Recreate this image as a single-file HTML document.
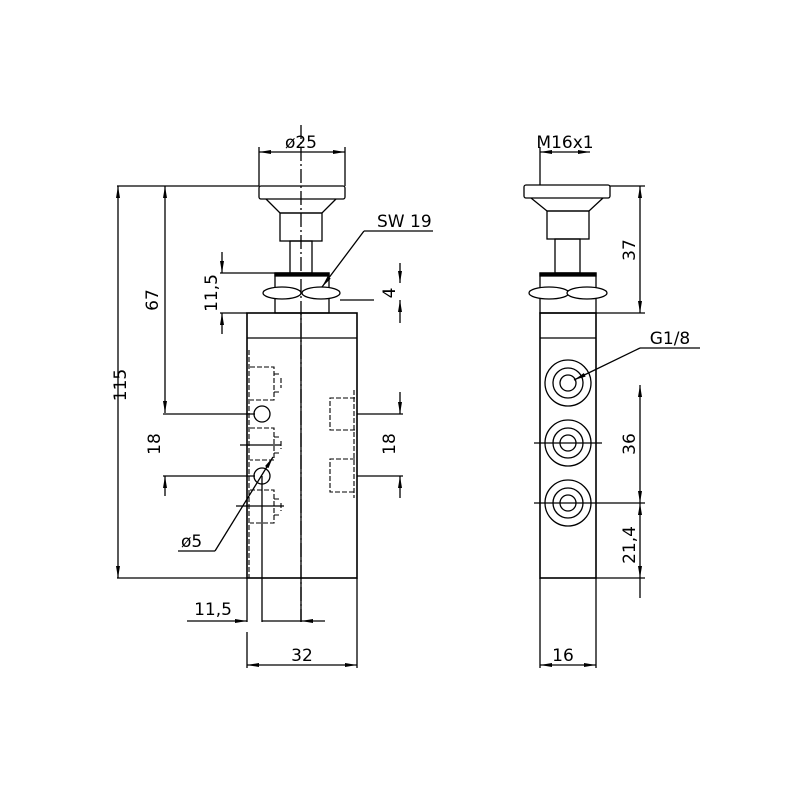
<!DOCTYPE html>
<html><head><style>body{margin:0;background:#fff}svg{display:block}text{font-family:"DejaVu Sans","Liberation Sans",sans-serif;font-size:17px;fill:#000}</style></head><body>
<svg width="800" height="800" viewBox="0 0 800 800" xmlns="http://www.w3.org/2000/svg">
<defs>
<marker id="a" viewBox="0 0 12 4" refX="12" refY="2" markerWidth="12" markerHeight="4" markerUnits="userSpaceOnUse" orient="auto-start-reverse"><path d="M0,0 L12,2 L0,4z" fill="#000"/></marker>
</defs>
<g stroke="#000" fill="none" stroke-width="1.3">
<!-- LEFT VIEW -->
<rect x="247" y="313" width="110" height="265" stroke-width="1.6"/>
<line x1="247" y1="338" x2="357" y2="338"/>
<line x1="301" y1="125" x2="301" y2="622" stroke-dasharray="14,3,2,3"/>
<line x1="301" y1="313" x2="301" y2="622"/>
<rect x="259" y="186" width="86" height="13" rx="2"/>
<path d="M266,199 L280,213 L322,213 L336,199"/>
<rect x="280" y="213" width="42" height="28"/>
<rect x="290" y="241" width="22" height="32"/>
<rect x="275" y="273" width="54" height="40"/>
<rect x="275" y="273" width="54" height="3" fill="#000"/>
<ellipse cx="282" cy="293" rx="19" ry="6" fill="#fff"/>
<ellipse cx="321" cy="293" rx="19" ry="6" fill="#fff"/>
<!-- holes -->
<circle cx="262" cy="414" r="8"/>
<circle cx="262" cy="476" r="8"/>
<line x1="262" y1="476" x2="262" y2="622"/>
<g stroke-dasharray="5,2" stroke-width="1.1">
<line x1="249" y1="350" x2="249" y2="578"/>
<path d="M250,367 H274 V400 H250"/><path d="M274,374 H281 M274,392 H281 M281,378 V388"/>
<path d="M250,428 H274 V460 H250"/><path d="M274,437 H281 M274,453 H281 M281,441 V449"/>
<path d="M250,490 H274 V523 H250"/><path d="M274,499 H281 M274,515 H281 M281,503 V511"/>
<path d="M355,398 H330 V430 H355"/><path d="M355,459 H330 V492 H355"/>
<line x1="354" y1="390" x2="354" y2="498"/>
</g>
<line x1="240" y1="445" x2="281" y2="445"/>
<line x1="236" y1="506" x2="284" y2="506"/>
<!-- dims left -->
<line x1="117" y1="186" x2="259" y2="186"/>
<line x1="117" y1="578" x2="247" y2="578"/>
<line x1="118" y1="186" x2="118" y2="578" marker-start="url(#a)" marker-end="url(#a)"/>
<line x1="165" y1="186" x2="165" y2="413" marker-start="url(#a)" marker-end="url(#a)"/>
<line x1="163" y1="414" x2="255" y2="414"/>
<line x1="163" y1="476" x2="255" y2="476"/>
<line x1="165" y1="476" x2="165" y2="496" marker-start="url(#a)"/>
<line x1="222" y1="252" x2="222" y2="273" marker-end="url(#a)"/>
<line x1="222" y1="313" x2="222" y2="334" marker-start="url(#a)"/>
<line x1="220" y1="273" x2="290" y2="273"/>
<line x1="220" y1="313" x2="247" y2="313"/>
<line x1="400" y1="263" x2="400" y2="283" marker-end="url(#a)"/>
<line x1="400" y1="300" x2="400" y2="323" marker-start="url(#a)"/>
<line x1="340" y1="300" x2="374" y2="300"/>
<line x1="364" y1="231" x2="433" y2="231"/>
<line x1="364" y1="231" x2="322" y2="287" marker-end="url(#a)"/>
<line x1="259" y1="147" x2="259" y2="186"/>
<line x1="345" y1="147" x2="345" y2="186"/>
<line x1="259" y1="152" x2="345" y2="152" marker-start="url(#a)" marker-end="url(#a)"/>
<line x1="357" y1="414" x2="403" y2="414"/>
<line x1="357" y1="476" x2="403" y2="476"/>
<line x1="400" y1="392" x2="400" y2="414" marker-end="url(#a)"/>
<line x1="400" y1="476" x2="400" y2="498" marker-start="url(#a)"/>
<line x1="178" y1="551" x2="215" y2="551"/>
<line x1="215" y1="551" x2="273" y2="457" marker-end="url(#a)"/>
<line x1="247" y1="578" x2="247" y2="622"/>
<line x1="187" y1="621" x2="247" y2="621" marker-end="url(#a)"/>
<line x1="262" y1="621" x2="301" y2="621"/>
<line x1="325" y1="621" x2="301" y2="621" marker-end="url(#a)"/>
<line x1="247" y1="632" x2="247" y2="668"/>
<line x1="357" y1="578" x2="357" y2="668"/>
<line x1="247" y1="665" x2="357" y2="665" marker-start="url(#a)" marker-end="url(#a)"/>
<!-- RIGHT VIEW -->
<rect x="540" y="313" width="56" height="265" stroke-width="1.6"/>
<line x1="540" y1="338" x2="596" y2="338"/>
<rect x="524" y="185" width="86" height="13" rx="2"/>
<path d="M531,198 L547,211 L589,211 L603,198"/>
<rect x="547" y="211" width="42" height="28"/>
<rect x="555" y="239" width="25" height="34"/>
<rect x="540" y="273" width="56" height="40"/>
<rect x="540" y="273" width="56" height="3" fill="#000"/>
<ellipse cx="549" cy="293" rx="20" ry="6" fill="#fff"/>
<ellipse cx="587" cy="293" rx="20" ry="6" fill="#fff"/>
<g>
<circle cx="568" cy="383" r="23"/><circle cx="568" cy="383" r="15"/><circle cx="568" cy="383" r="8"/>
<circle cx="568" cy="443" r="23"/><circle cx="568" cy="443" r="15"/><circle cx="568" cy="443" r="8"/>
<circle cx="568" cy="503" r="23"/><circle cx="568" cy="503" r="15"/><circle cx="568" cy="503" r="8"/>
</g>
<line x1="534" y1="443" x2="602" y2="443"/>
<line x1="534" y1="503" x2="645" y2="503"/>
<line x1="610" y1="186" x2="645" y2="186"/>
<line x1="596" y1="313" x2="645" y2="313"/>
<line x1="640" y1="186" x2="640" y2="313" marker-start="url(#a)" marker-end="url(#a)"/>
<line x1="640" y1="385" x2="640" y2="503" marker-start="url(#a)" marker-end="url(#a)"/>
<line x1="596" y1="578" x2="645" y2="578"/>
<line x1="640" y1="503" x2="640" y2="578" marker-start="url(#a)" marker-end="url(#a)"/>
<line x1="640" y1="578" x2="640" y2="598"/>
<line x1="640" y1="348" x2="700" y2="348"/>
<line x1="640" y1="348" x2="574" y2="380" marker-end="url(#a)"/>
<line x1="540" y1="147" x2="540" y2="185"/>
<line x1="540" y1="152" x2="590" y2="152" marker-start="url(#a)" marker-end="url(#a)"/>
<line x1="540" y1="578" x2="540" y2="668"/>
<line x1="596" y1="578" x2="596" y2="668"/>
<line x1="540" y1="665" x2="596" y2="665" marker-start="url(#a)" marker-end="url(#a)"/>
</g>
<text x="301" y="148" text-anchor="middle">ø25</text>
<text x="377" y="227">SW 19</text>
<text transform="translate(126,385) rotate(-90)" text-anchor="middle">115</text>
<text transform="translate(158,300) rotate(-90)" text-anchor="middle">67</text>
<text transform="translate(160,444) rotate(-90)" text-anchor="middle">18</text>
<text transform="translate(217,293) rotate(-90)" text-anchor="middle">11,5</text>
<text transform="translate(395,293) rotate(-90)" text-anchor="middle">4</text>
<text transform="translate(395,444) rotate(-90)" text-anchor="middle">18</text>
<text x="181" y="547">ø5</text>
<text x="213" y="615" text-anchor="middle">11,5</text>
<text x="302" y="661" text-anchor="middle">32</text>
<text x="565" y="148" text-anchor="middle">M16x1</text>
<text x="670" y="344" text-anchor="middle">G1/8</text>
<text transform="translate(635,250) rotate(-90)" text-anchor="middle">37</text>
<text transform="translate(635,444) rotate(-90)" text-anchor="middle">36</text>
<text transform="translate(635,545) rotate(-90)" text-anchor="middle">21,4</text>
<text x="563" y="661" text-anchor="middle">16</text>
</svg>
</body></html>
